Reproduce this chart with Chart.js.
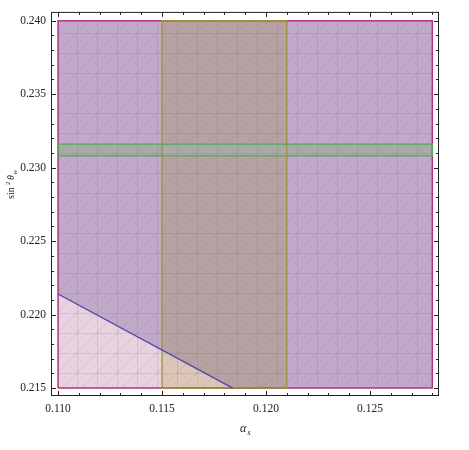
<!DOCTYPE html>
<html>
<head>
<meta charset="utf-8">
<script src="https://cdn.jsdelivr.net/npm/chart.js@4"></script>
<style>
  body { margin: 0; background: #fff; }
  canvas { display: block; }
</style>
</head>
<body>
<canvas id="chart" width="469" height="450"></canvas>
<script>
// --- DATA ---
const xRange = [0.10966, 0.12832];
const yRange = [0.21446, 0.2406];
const xTicks = [0.110, 0.115, 0.120, 0.125];
const yTicks = [0.215, 0.220, 0.225, 0.230, 0.235, 0.240];

// allowed region (outer box)
const boxX = [0.110, 0.128];
const boxY = [0.215, 0.240];
// blue constraint line, region above it is allowed
const lineX = [0.110, 0.1184];
const lineY = [0.2214, 0.215];
// alpha_s band
const bandX = [0.115, 0.121];
// sin^2 theta_w band
const greenY = [0.2308, 0.2316];

// --- HELPERS ---
function yOnLine(x) {
  const t = (x - lineX[0]) / (lineX[1] - lineX[0]);
  return lineY[0] + t * (lineY[1] - lineY[0]);
}
function rect(x0, x1, y0, y1) {
  return [{x: x0, y: y0}, {x: x1, y: y0}, {x: x1, y: y1}, {x: x0, y: y1}, {x: x0, y: y0}];
}

// faint triangulation mesh like the original render
function mesh(color) {
  const c = document.createElement('canvas');
  c.width = 20; c.height = 20;
  const g = c.getContext('2d');
  g.fillStyle = color;
  g.fillRect(0, 0, 20, 20);
  g.strokeStyle = 'rgba(90,60,90,0.13)';
  g.lineWidth = 1;
  g.beginPath();
  g.moveTo(17.5, 0); g.lineTo(17.5, 20);
  g.moveTo(0, 13.5); g.lineTo(20, 13.5);
  g.moveTo(0, 10); g.lineTo(10, 0);
  g.moveTo(10, 20); g.lineTo(20, 10);
  g.stroke();
  return g.createPattern(c, 'repeat');
}

const purplePoly = [
  {x: lineX[0], y: lineY[0]}, {x: boxX[0], y: boxY[1]}, {x: boxX[1], y: boxY[1]},
  {x: boxX[1], y: boxY[0]}, {x: lineX[1], y: lineY[1]}, {x: lineX[0], y: lineY[0]}
];
const brownPoly = [
  {x: bandX[0], y: yOnLine(bandX[0])}, {x: bandX[0], y: boxY[1]}, {x: bandX[1], y: boxY[1]},
  {x: bandX[1], y: boxY[0]}, {x: lineX[1], y: lineY[1]}, {x: bandX[0], y: yOnLine(bandX[0])}
];

function shape(data, fillColor, order) {
  return { data, backgroundColor: fillColor, borderWidth: 0, fill: 'shape',
           showLine: true, pointRadius: 0, order };
}
function outline(data, color, order, w) {
  return { data, borderColor: color, borderWidth: w || 1.3, fill: false,
           showLine: true, pointRadius: 0, order };
}

// --- FRAME / TICKS / TITLES ---
const framePlugin = {
  id: 'frame',
  afterDraw(chart) {
    const {ctx, chartArea: a, scales: {x, y}} = chart;
    ctx.save();
    ctx.strokeStyle = '#222';
    ctx.lineWidth = 1;
    ctx.strokeRect(a.left + 0.5, a.top + 0.5, a.width - 1, a.height - 1);
    ctx.beginPath();
    for (let i = 110; i <= 128; i++) {
      const px = Math.round(x.getPixelForValue(i / 1000)) + 0.5;
      const len = i % 5 === 0 ? 5 : 3;
      ctx.moveTo(px, a.bottom); ctx.lineTo(px, a.bottom - len);
      ctx.moveTo(px, a.top); ctx.lineTo(px, a.top + len);
    }
    for (let i = 215; i <= 240; i++) {
      const py = Math.round(y.getPixelForValue(i / 1000)) + 0.5;
      const len = i % 5 === 0 ? 5 : 3;
      ctx.moveTo(a.left, py); ctx.lineTo(a.left + len, py);
      ctx.moveTo(a.right, py); ctx.lineTo(a.right - len, py);
    }
    ctx.stroke();

    // x title: alpha_s
    ctx.fillStyle = '#222';
    ctx.textBaseline = 'alphabetic';
    ctx.font = 'italic 12px "Liberation Serif"';
    ctx.fillText('α', 240, 432);
    ctx.font = 'italic 8px "Liberation Serif"';
    ctx.fillText('s', 247.5, 435);

    // y title: sin^2 theta_w
    ctx.translate(14, 199);
    ctx.rotate(-Math.PI / 2);
    ctx.font = '10px "Liberation Serif"';
    ctx.fillText('sin', 0, 0);
    ctx.font = '7px "Liberation Serif"';
    ctx.fillText('2', 14, -4);
    ctx.font = 'italic 10px "Liberation Serif"';
    ctx.fillText('θ', 19, 0);
    ctx.font = 'italic 7px "Liberation Serif"';
    ctx.fillText('w', 24.5, 3);
    ctx.restore();
  }
};

// --- CHART ---
const tickFont = { family: 'Liberation Serif', size: 11.5 };
const ctx = document.getElementById('chart').getContext('2d');

new Chart(ctx, {
  type: 'scatter',
  data: {
    datasets: [
      shape(rect(boxX[0], boxX[1], boxY[0], boxY[1]), mesh('#e8d2df'), 20),
      shape(purplePoly, mesh('#c1a9c9'), 19),
      shape(rect(bandX[0], bandX[1], boxY[0], boxY[1]), mesh('#dcc6b8'), 18),
      shape(brownPoly, mesh('#b6a1a3'), 17),
      shape(rect(boxX[0], boxX[1], greenY[0], greenY[1]), mesh('#a9aca6'), 16),
      outline(rect(boxX[0], boxX[1], boxY[0], boxY[1]), '#b0357e', 5, 1.5),
      outline(rect(bandX[0], bandX[1], boxY[0], boxY[1]), '#a38f3a', 4, 1.3),
      outline(rect(boxX[0], boxX[1], greenY[0], greenY[1]), '#58a460', 3, 1.3),
      outline(lineX.map((v, i) => ({x: v, y: lineY[i]})), '#4b48a8', 2, 1.3)
    ]
  },
  options: {
    responsive: false,
    animation: false,
    layout: { padding: { top: 6, right: 30, left: 0, bottom: 0 } },
    plugins: { legend: { display: false }, tooltip: { enabled: false } },
    scales: {
      x: {
        type: 'linear', min: xRange[0], max: xRange[1],
        grid: { display: false, drawTicks: false },
        border: { display: false },
        afterBuildTicks: s => { s.ticks = xTicks.map(v => ({ value: v })); },
        afterFit: s => { s.height = 54; },
        ticks: { color: '#222', font: tickFont, padding: 6, maxRotation: 0,
                 callback: v => v.toFixed(3) }
      },
      y: {
        type: 'linear', min: yRange[0], max: yRange[1],
        grid: { display: false, drawTicks: false },
        border: { display: false },
        afterBuildTicks: s => { s.ticks = yTicks.map(v => ({ value: v })); },
        afterFit: s => { s.width = 51; },
        ticks: { color: '#222', font: tickFont, padding: 5,
                 callback: v => v.toFixed(3) }
      }
    }
  },
  plugins: [framePlugin]
});
</script>
</body>
</html>
